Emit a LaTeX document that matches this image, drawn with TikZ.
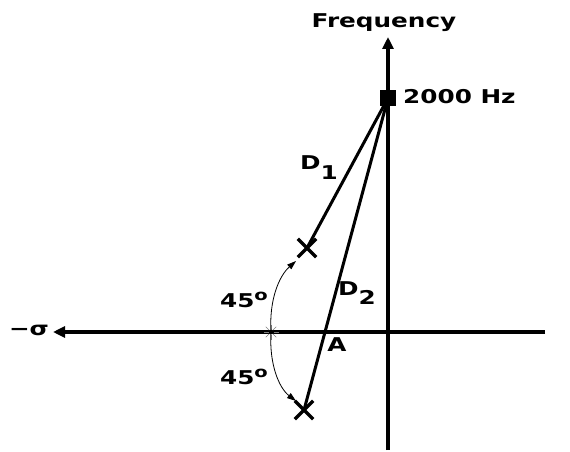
\documentclass[tikz,border=0pt]{standalone}
\usepackage{fontspec}
\setmainfont{DejaVu Sans}[FakeStretch=1.3]
\usetikzlibrary{arrows.meta,shapes.misc}

\begin{document}
\begin{tikzpicture}[x=1pt,y=-1pt,
  lbl/.style={font=\bfseries\fontsize{19}{19}\selectfont,inner sep=0pt},
  axis/.style={line width=3.2pt,-{Triangle[length=12pt,width=11pt]}},
  ray/.style={line width=3pt},
  pole/.style={cross out,draw,line width=3.4pt,minimum size=15pt,inner sep=0pt},
  angarc/.style={line width=0.8pt,-{Triangle[length=9pt,width=6pt]}}]
  \useasboundingbox (0,0) rectangle (570,452);
  % axes
  \coordinate (ytop) at (388,37);
  \coordinate (ybot) at (388,450);
  \coordinate (xleft) at (53,332);
  \coordinate (xright) at (545,332);
  \draw[axis] (ybot) -- (ytop);
  \draw[axis] (xright) -- (xleft);
  \node[lbl] (freq) at (384,23) {Frequency};
  \node[lbl] (sigma) at (29,330) {−σ};
  % source and poles
  \node[fill,minimum size=16pt,inner sep=0pt] (src) at (388,98) {};
  \node[lbl,anchor=west] (hz) at (403,97) {2000 Hz};
  \node[pole] (p1) at (307,248) {};
  \node[pole] (p2) at (304,410) {};
  \draw[ray] (src.center) -- (p1.center);
  \draw[ray] (src.center) -- (p2.center);
  \node[lbl] (d1) at (319,168) {D\raisebox{-10pt}{1}};
  \node[lbl] (d2) at (357,293) {D\raisebox{-9pt}{2}};
  \node[lbl] (a) at (337,345) {A};
  % angle
  \coordinate (star) at (271,332);
  \coordinate (tip1) at (296,261);
  \coordinate (tip2) at (296,401);
  \foreach \a in {0,45,...,315}
    \draw[gray,thin] (star) ++(\a:2.5) -- ++(\a:5);
  \draw[angarc] (star) .. controls (269,300) and (279,276) .. (tip1);
  \draw[angarc] (star) .. controls (269,364) and (279,388) .. (tip2);
  \node[lbl] (ang1) at (244,300) {45\raisebox{7pt}{\fontsize{15}{15}\selectfont o}};
  \node[lbl] (ang2) at (244,377) {45\raisebox{7pt}{\fontsize{15}{15}\selectfont o}};
\end{tikzpicture}
\end{document}
